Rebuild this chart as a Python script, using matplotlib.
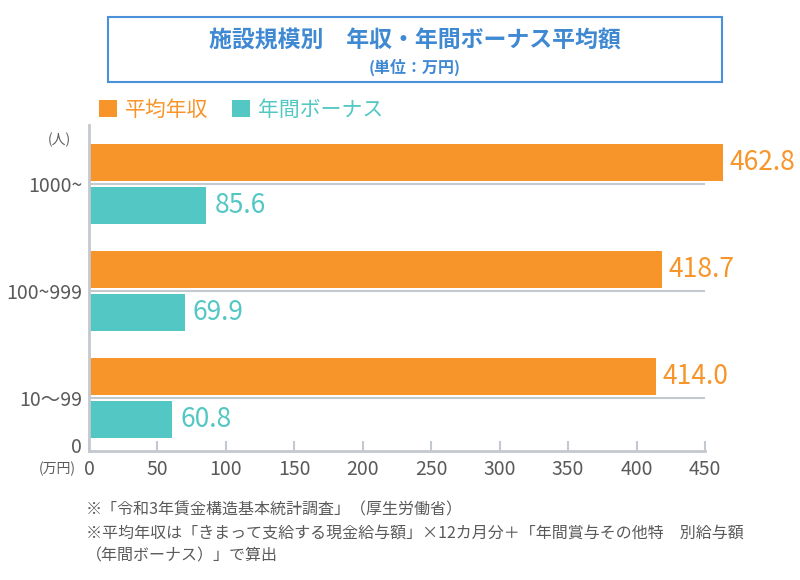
import matplotlib.pyplot as plt
from matplotlib.patches import Rectangle

plt.rcParams['font.family'] = ['Noto Sans CJK JP', 'DejaVu Sans']

# data (bottom to top)
sizes = ['10〜99', '100~999', '1000~']
annual = [414.0, 418.7, 462.8]
bonus = [60.8, 69.9, 85.6]

orange = '#F7952A'
teal = '#52C7C3'
grey_line = '#C3C9CF'
text_grey = '#5A5A5A'
blue = '#3F89D3'

fig = plt.figure(figsize=(8, 5.8), dpi=100)
ax = fig.add_axes([89 / 800, 1 - 451 / 580, 616 / 800, 326 / 580])

pos = list(range(len(sizes)))
h = 0.346
gap = 0.028
ax.barh([p + gap + h / 2 for p in pos], annual, height=h, color=orange, label='平均年収',
        zorder=2, clip_on=False)
ax.barh([p - gap - h / 2 for p in pos], bonus, height=h, color=teal, label='年間ボーナス',
        zorder=2, clip_on=False)

for p in pos:
    ax.axhline(p, color=grey_line, lw=1.5, zorder=1)

# value labels
for p, a, b in zip(pos, annual, bonus):
    ax.text(a + 5, p + gap + h / 2, f'{a:.1f}', color=orange, fontsize=19,
            va='center', ha='left')
    ax.text(b + 6, p - gap - h / 2, f'{b:.1f}', color=teal, fontsize=19,
            va='center', ha='left')

ax.set_xlim(0, 450)
ax.set_ylim(-0.5, 2.55)
ax.set_xticks(range(0, 451, 50))
ax.set_yticks([-0.44] + pos)
ax.set_yticklabels(['0'] + sizes)

for s in ['top', 'right']:
    ax.spines[s].set_visible(False)
for s in ['left', 'bottom']:
    ax.spines[s].set_color(grey_line)
    ax.spines[s].set_linewidth(2)

ax.tick_params(axis='x', direction='in', length=7, width=1.5, color=grey_line,
               labelsize=14, labelcolor=text_grey, pad=6)
ax.tick_params(axis='y', length=0, labelsize=14, labelcolor=text_grey, pad=5)

ax.text(-0.03, 2.41, '(人)', transform=ax.get_yaxis_transform(), ha='right',
        va='center', fontsize=10, color=text_grey)
fig.text(76 / 800, 1 - 469 / 580, '(万円)', ha='right', va='center', fontsize=10,
         color=text_grey)

# legend
leg = fig.legend(loc='upper left', bbox_to_anchor=(99 / 800, 1 - 99 / 580), ncol=2,
                 frameon=False, fontsize=15, handlelength=0.85, handleheight=0.85,
                 handletextpad=0.38, columnspacing=1.15, borderaxespad=0, borderpad=0)
for t, c in zip(leg.get_texts(), [orange, teal]):
    t.set_color(c)

# title box
fig.patches.append(Rectangle((108 / 800, 1 - 82 / 580), 614 / 800, 65 / 580,
                             transform=fig.transFigure, fill=False,
                             edgecolor='#4A90DA', lw=1.5))
fig.text(415 / 800, 1 - 41 / 580, '施設規模別　年収・年間ボーナス平均額', ha='center',
         va='center', fontsize=16.5, fontweight='bold', color=blue)
fig.text(415 / 800, 1 - 67 / 580, '(単位：万円)', ha='center', va='center',
         fontsize=11.5, fontweight='bold', color=blue)

# footnotes
notes = [
    '※「令和3年賃金構造基本統計調査」（厚生労働省）',
    '※平均年収は「きまって支給する現金給与額」×12カ月分＋「年間賞与その他特　別給与額',
    '（年間ボーナス）」で算出',
]
for i, n in enumerate(notes):
    fig.text(86 / 800, 1 - (510 + 23 * i) / 580, n, ha='left', va='center',
             fontsize=11.5, color=text_grey)

fig.savefig('out.png', dpi=100)
